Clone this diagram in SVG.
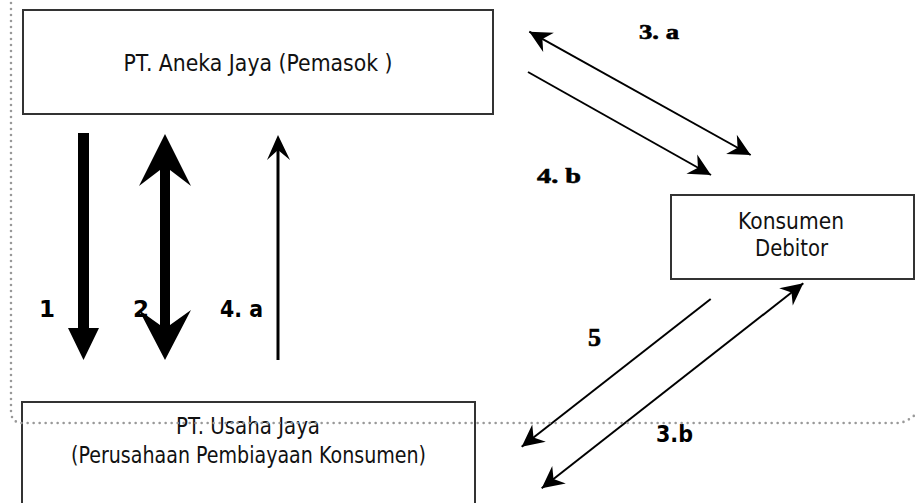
<svg xmlns="http://www.w3.org/2000/svg" width="916" height="503" viewBox="0 0 916 503">
<style>
.box{fill:#fff;stroke:#333;stroke-width:2}
.lbl{font-family:"DejaVu Sans","Liberation Sans",sans-serif;font-size:23px;fill:#111;text-anchor:middle}
.num{font-family:"DejaVu Sans","Liberation Sans",sans-serif;font-size:23px;font-weight:bold;fill:#000}
.snum{font-family:"Liberation Serif","DejaVu Serif",serif;font-size:22px;font-weight:bold;fill:#000;stroke:#000;stroke-width:0.6}
.thin{stroke:#000;stroke-width:2;fill:none}
.dots{fill:none;stroke:#999;stroke-width:2.6;stroke-dasharray:0 6;stroke-linecap:round}
</style>
<defs>
<marker id="ah" markerUnits="userSpaceOnUse" viewBox="-23 -12 24 24" refX="0" refY="0" markerWidth="24" markerHeight="24" orient="auto-start-reverse">
<path d="M0,0 L-22,-11 L-15,0 L-22,11 Z" fill="#000"/>
</marker>
</defs>
<rect width="916" height="503" fill="#fff"/>
<g id="node-aneka">
<rect class="box" x="23" y="10" width="470" height="104"/>
<text class="lbl" x="258" y="71" textLength="269" lengthAdjust="spacingAndGlyphs">PT. Aneka Jaya (Pemasok )</text>
</g>
<g id="node-konsumen">
<rect class="box" x="671" y="195" width="243" height="84"/>
<text class="lbl" x="791" y="229" textLength="106" lengthAdjust="spacingAndGlyphs">Konsumen</text>
<text class="lbl" x="791.5" y="256" textLength="73" lengthAdjust="spacingAndGlyphs">Debitor</text>
</g>
<g id="node-usaha">
<rect class="box" x="22" y="402" width="453" height="110"/>
<text class="lbl" x="248" y="434" textLength="144" lengthAdjust="spacingAndGlyphs">PT. Usaha Jaya</text>
<text class="lbl" x="248.5" y="463" textLength="355" lengthAdjust="spacingAndGlyphs">(Perusahaan Pembiayaan Konsumen)</text>
</g>
<g id="connectors">
<polygon points="78,133 89,133 89,328 99,328 83.5,360 68,328 78,328" fill="#000"/>
<polygon points="165,134 191,186 170,170 170,325 191,310 165,360 139,310 160,325 160,170 139,186" fill="#000"/>
<line x1="278" y1="360" x2="278" y2="148" stroke="#000" stroke-width="3"/>
<polygon points="278,135 290,160 278,150 267,160" fill="#000"/>
<line class="thin" x1="529.3" y1="31.7" x2="750.7" y2="155" marker-start="url(#ah)" marker-end="url(#ah)"/>
<line class="thin" x1="528" y1="72" x2="711" y2="175" marker-end="url(#ah)"/>
<line class="thin" x1="710.7" y1="299" x2="521.7" y2="446.7" marker-end="url(#ah)"/>
<line class="thin" x1="803.3" y1="283.3" x2="541.7" y2="488.3" marker-start="url(#ah)" marker-end="url(#ah)"/>
</g>
<g id="labels">
<text class="num" x="39" y="317">1</text>
<text class="num" x="133" y="317">2</text>
<text class="num" x="220" y="317" textLength="43" lengthAdjust="spacingAndGlyphs">4. a</text>
<text class="snum" x="639" y="39" textLength="40" lengthAdjust="spacingAndGlyphs">3. a</text>
<text class="snum" x="537" y="183" textLength="44" lengthAdjust="spacingAndGlyphs">4. b</text>
<text class="snum" x="588" y="346" style="font-size:26px">5</text>
<text class="num" x="656" y="442" textLength="37" lengthAdjust="spacingAndGlyphs">3.b</text>
</g>
<path class="dots" d="M11,3 L11,411 Q11,423 23,423 L897,423 Q906,423 916,414"/>
</svg>
